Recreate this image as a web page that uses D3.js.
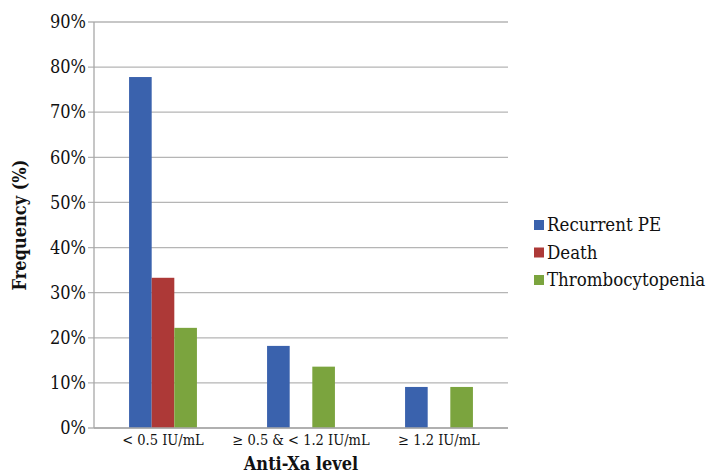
<!DOCTYPE html>
<html>
<head>
<meta charset="utf-8">
<script src="https://cdn.jsdelivr.net/npm/d3@7"></script>
<style>
  body { margin: 0; background: #fff; }
</style>
</head>
<body>
<div id="chart"></div>
<script>
var categories = ['< 0.5 IU/mL', '\u2265 0.5 & < 1.2 IU/mL', '\u2265 1.2 IU/mL'];
var seriesNames = ['Recurrent PE', 'Death', 'Thrombocytopenia'];
var recurrentPE = [77.8, 18.2, 9.1];
var death = [33.3, 0, 0];
var thrombocytopenia = [22.2, 13.6, 9.1];
var yTicks = [0, 10, 20, 30, 40, 50, 60, 70, 80, 90];
var colors = ['#3a62ad', '#ad3937', '#7ba43e'];

var seriesValues = [recurrentPE, death, thrombocytopenia];
var serif = 'DejaVu Serif Condensed, DejaVu Serif, serif';

var width = 709, height = 475;
var margin = { top: 22, right: 201, bottom: 47, left: 94 };
var plotW = width - margin.left - margin.right;
var plotH = height - margin.top - margin.bottom;

var svg = d3.select('#chart').append('svg')
    .attr('width', width)
    .attr('height', height)
    .attr('font-family', serif);

var g = svg.append('g')
    .attr('transform', 'translate(' + margin.left + ',' + margin.top + ')');

var x0 = d3.scaleBand().domain(categories).range([0, plotW]);
var x1 = d3.scaleBand().domain(seriesNames).range([0, x0.bandwidth()]).paddingOuter(1.55);
var y = d3.scaleLinear().domain([0, 90]).range([plotH, 0]);

// gridlines
g.selectAll('line.grid')
    .data(yTicks)
    .enter().append('line')
    .attr('class', 'grid')
    .attr('x1', -6)
    .attr('x2', plotW)
    .attr('y1', function (d) { return y(d); })
    .attr('y2', function (d) { return y(d); })
    .attr('stroke', '#b5b5b5')
    .attr('stroke-width', 1.3);

// y axis labels
var yAxis = d3.axisLeft(y).tickValues(yTicks).tickSize(0).tickPadding(8)
    .tickFormat(function (d) { return d + '%'; });
var yg = g.append('g').call(yAxis).attr('font-family', serif).attr('font-size', 18);
yg.select('.domain').remove();
yg.selectAll('text').attr('fill', '#111');

// bars
var groups = g.selectAll('g.cat')
    .data(categories)
    .enter().append('g')
    .attr('class', 'cat')
    .attr('transform', function (d) { return 'translate(' + x0(d) + ',0)'; });

groups.selectAll('rect')
    .data(function (d, i) {
        return seriesNames.map(function (s, j) { return { s: s, v: seriesValues[j][i], c: colors[j] }; });
    })
    .enter().append('rect')
    .attr('x', function (d) { return x1(d.s); })
    .attr('width', x1.bandwidth())
    .attr('y', function (d) { return y(d.v); })
    .attr('height', function (d) { return plotH - y(d.v); })
    .attr('fill', function (d) { return d.c; });

// axes lines
g.append('line').attr('x1', 0).attr('x2', 0).attr('y1', 0).attr('y2', plotH)
    .attr('stroke', '#a8a8a8').attr('stroke-width', 1.3);
g.append('line').attr('x1', 0).attr('x2', plotW).attr('y1', plotH).attr('y2', plotH)
    .attr('stroke', '#a8a8a8').attr('stroke-width', 1.3);

// x category labels
var xAxis = d3.axisBottom(x0).tickSize(0).tickPadding(7);
var xg = g.append('g').attr('transform', 'translate(0,' + plotH + ')').call(xAxis)
    .attr('font-family', serif).attr('font-size', 14.5);
xg.select('.domain').remove();
xg.selectAll('text').attr('fill', '#111');

// axis titles
svg.append('text')
    .attr('x', margin.left + plotW / 2)
    .attr('y', 470)
    .attr('text-anchor', 'middle')
    .attr('font-size', 18)
    .attr('font-weight', 'bold')
    .attr('fill', '#111')
    .text('Anti-Xa level');

svg.append('text')
    .attr('transform', 'translate(26,' + (margin.top + plotH / 2) + ') rotate(-90)')
    .attr('text-anchor', 'middle')
    .attr('font-size', 18)
    .attr('font-weight', 'bold')
    .attr('fill', '#111')
    .text('Frequency (%)');

// legend
var legend = svg.append('g').attr('transform', 'translate(534,225)');
var items = legend.selectAll('g')
    .data(seriesNames)
    .enter().append('g')
    .attr('transform', function (d, i) { return 'translate(0,' + (i * 27.5) + ')'; });
items.append('rect')
    .attr('x', 0).attr('y', -5)
    .attr('width', 10).attr('height', 10)
    .attr('fill', function (d, i) { return colors[i]; });
items.append('text')
    .attr('x', 13).attr('y', 6)
    .attr('font-size', 18.5)
    .attr('fill', '#111')
    .text(function (d) { return d; });
</script>
</body>
</html>
